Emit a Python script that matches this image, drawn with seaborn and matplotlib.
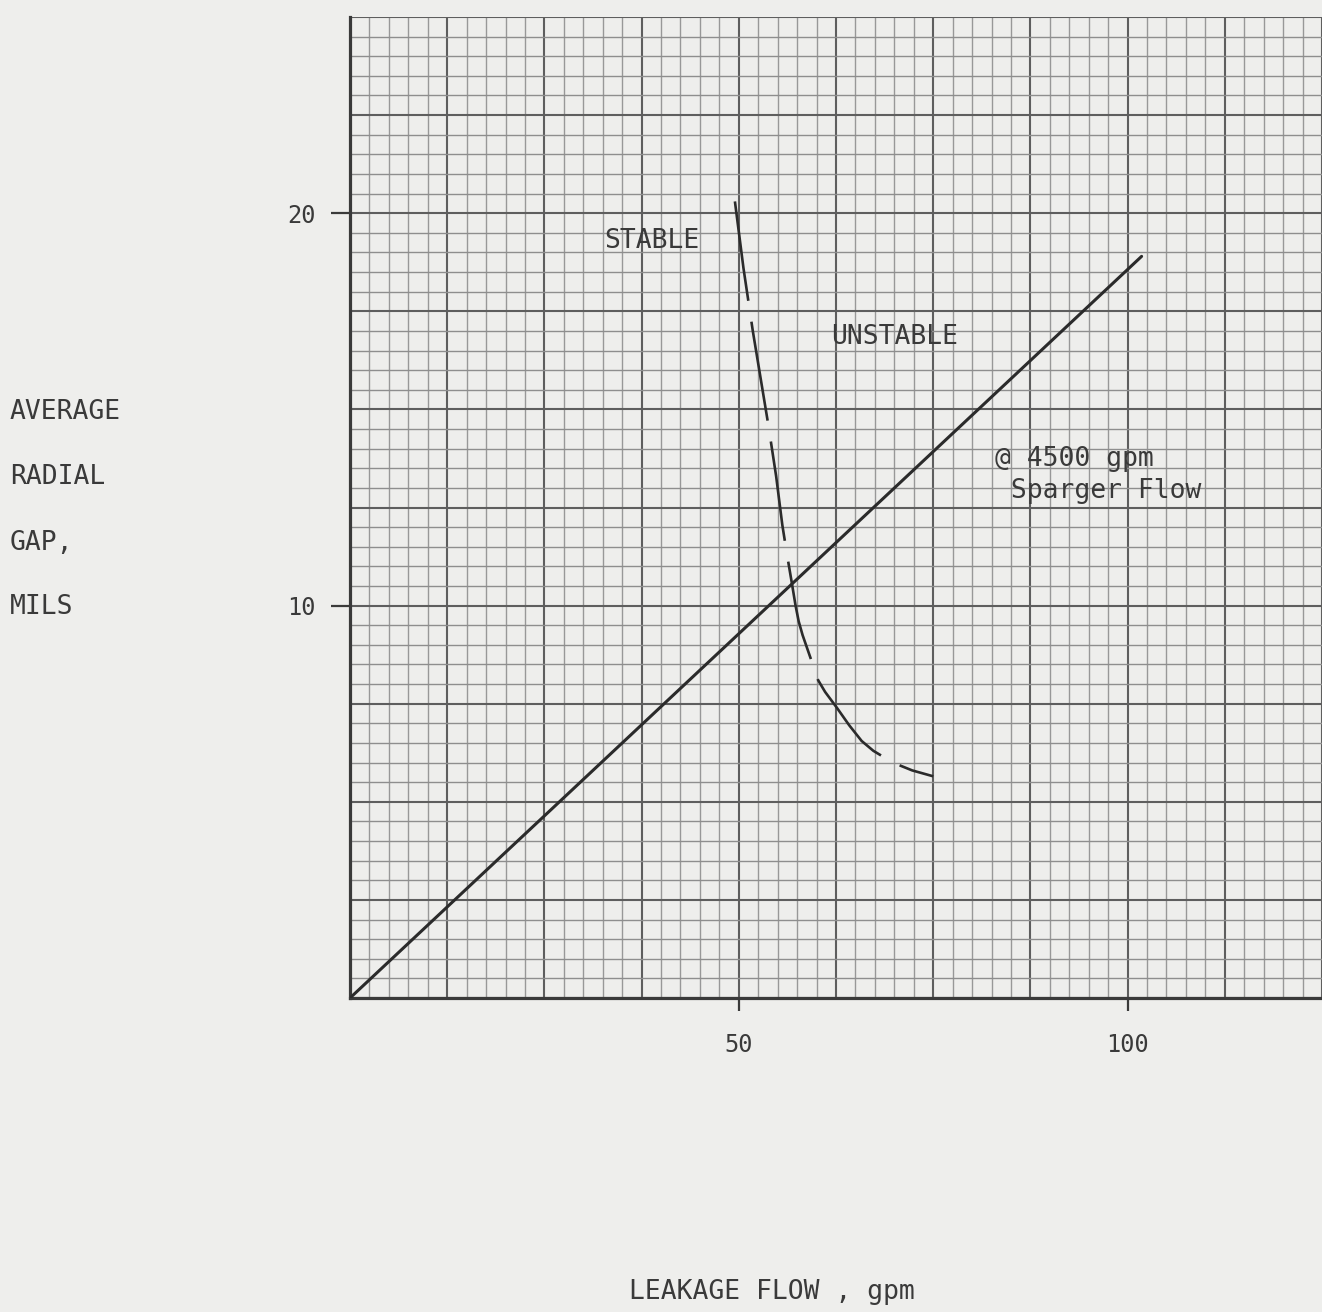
import numpy as np
import pandas as pd
import matplotlib
matplotlib.use("Agg")
import matplotlib.pyplot as plt
import seaborn as sns

# ---- data ----
sparger_x = [0.0, 101.8]
sparger_y = [0.0, 18.9]

boundary_x = [49.5, 50.6, 51.8, 52.8, 53.8, 54.8, 55.6, 56.2, 56.8, 57.3, 57.7, 58.2, 58.9, 59.6, 60.2,
              61.1, 62.6, 64.2, 65.8, 67.3, 69.8, 72.3, 75.0]
boundary_y = [20.3, 18.6, 17.0, 15.8, 14.6, 13.3, 12.05, 11.3, 10.6, 10.0, 9.6, 9.25, 8.85, 8.45, 8.1,
              7.8, 7.4, 6.95, 6.55, 6.3, 6.0, 5.8, 5.65]

x_tick_values = [50, 100]
x_tick_labels = ["50", "100"]
y_tick_values = [10, 20]
y_tick_labels = ["10", "20"]

ylabel_lines = ["AVERAGE", "RADIAL", "GAP,", "MILS"]
xlabel_text = "LEAKAGE FLOW , gpm"
region_labels = ["STABLE", "UNSTABLE"]
region_x = [38.8, 70.0]
region_y = [19.3, 16.85]
curve_note = "@ 4500 gpm\n Sparger Flow"
note_x, note_y = 83.0, 13.33

x_max, y_max = 125.0, 25.0
x_major, x_minor = 12.5, 2.5
y_major, y_minor = 2.5, 0.5

# ---- style ----
sns.set_style("white")
paper = "#eeeeec"
ink = "#2b2b2b"
text_col = "#3a3a3a"
plt.rcParams["font.family"] = ["DejaVu Sans Mono", "DejaVu Sans"]

fig = plt.figure(figsize=(13.22, 13.12), dpi=100, facecolor=paper)
ax = fig.add_axes([350 / 1322, 314 / 1312, 972 / 1322, 981 / 1312])
ax.set_facecolor(paper)
ax.set_xlim(0, x_max)
ax.set_ylim(0, y_max)

# graph-paper grid
xs_minor = np.arange(0, x_max + 1e-6, x_minor)
ys_minor = np.arange(0, y_max + 1e-6, y_minor)
for v in xs_minor:
    major = abs(v / x_major - round(v / x_major)) < 1e-6
    ax.axvline(v, color="#5e5e5e" if major else "#989898",
               lw=1.5 if major else 1.0, zorder=1)
for v in ys_minor:
    major = abs(v / y_major - round(v / y_major)) < 1e-6
    ax.axhline(v, color="#5e5e5e" if major else "#8e8e8e",
               lw=1.5 if major else 1.0, zorder=1)

# curves
df_line = pd.DataFrame({"x": sparger_x, "y": sparger_y})
sns.lineplot(data=df_line, x="x", y="y", ax=ax, color=ink, lw=2.2,
             estimator=None, sort=False, zorder=3)
df_b = pd.DataFrame({"x": boundary_x, "y": boundary_y})
sns.lineplot(data=df_b, x="x", y="y", ax=ax, color=ink, lw=1.9,
             estimator=None, sort=False, zorder=3,
             linestyle=(0, (38, 8)))

# spines
for s in ["top", "right"]:
    ax.spines[s].set_visible(False)
for s in ["left", "bottom"]:
    ax.spines[s].set_color("#3a3a3a")
    ax.spines[s].set_linewidth(2.3)

# ticks
ax.set_xticks(x_tick_values)
ax.set_xticklabels(x_tick_labels)
ax.set_yticks(y_tick_values)
ax.set_yticklabels(y_tick_labels)
ax.tick_params(axis="x", length=9, width=1.6, color="#3a3a3a", pad=16,
               labelsize=17, labelcolor=text_col, direction="out", bottom=True)
ax.tick_params(axis="y", length=14, width=1.6, color="#3a3a3a", pad=11,
               labelsize=17, labelcolor=text_col, direction="out", left=True)
ax.set_xlabel("")
ax.set_ylabel("")

# annotations
for t, x, y in zip(region_labels, region_x, region_y):
    ax.text(x, y, t, ha="center", va="center", fontsize=19, color=text_col,
            zorder=4)
ax.text(note_x, note_y, curve_note, ha="left", va="center", fontsize=19,
        color=text_col, linespacing=1.3, zorder=4)

# axis titles as figure text
ylab_y = [412, 477, 543, 607]
for t, yy in zip(ylabel_lines, ylab_y):
    fig.text(10 / 1322, 1 - yy / 1312, t, ha="left", va="center",
             fontsize=19, color=text_col)
fig.text(772 / 1322, 1 - 1292 / 1312, xlabel_text, ha="center", va="center",
         fontsize=19, color=text_col)

fig.savefig("out.png", dpi=100, facecolor=paper)
